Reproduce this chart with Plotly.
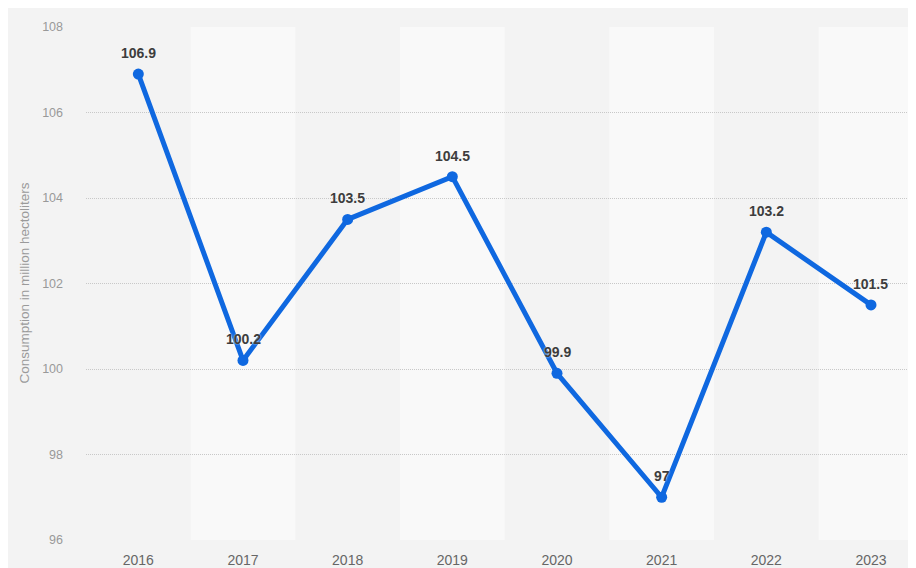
import plotly.graph_objects as go

years = ["2016", "2017", "2018", "2019", "2020", "2021", "2022", "2023"]
consumption = [106.9, 100.2, 103.5, 104.5, 99.9, 97, 103.2, 101.5]
y_ticks = [96, 98, 100, 102, 104, 106, 108]
y_title = "Consumption in million hectoliters"

# page body has an 8px margin; figure sized to fill the rest of the window
OFF = 8
W, H = 916 - OFF, 568 - OFF
L, R, T, B = 86 - OFF, 0, 27 - OFF, H - (540 - OFF)
pw, ph = W - L - R, H - T - B

def px_x(p):
    return (p - OFF - L) / pw

xs = list(range(len(years)))
blue = "#0f68e0"
font_family = "Liberation Sans, Arial, sans-serif"

fig = go.Figure()
fig.add_trace(go.Scatter(
    x=xs, y=consumption, mode="lines+markers",
    line=dict(color=blue, width=5),
    marker=dict(color=blue, size=11),
    hoverinfo="skip", showlegend=False,
))

shapes = []
for i in xs:
    if i % 2 == 1:
        shapes.append(dict(type="rect", xref="x", yref="y", x0=i - 0.5, x1=i + 0.5,
                           y0=y_ticks[0], y1=y_ticks[-1], fillcolor="#f9f9f9",
                           line=dict(width=0), layer="below"))

annotations = []
for x, v in zip(xs, consumption):
    annotations.append(dict(
        x=x, y=v, xref="x", yref="y", text=f"{v:g}", showarrow=False,
        yshift=21, yanchor="middle",
        font=dict(family=font_family, size=14, color="#3d3d3d",
                  weight="bold", shadow="0px 0px 2px #f8f8f8"),
    ))
annotations.append(dict(
    x=px_x(24), y=0.5, xref="paper", yref="paper", text=y_title, showarrow=False,
    textangle=-90, xanchor="center", yanchor="middle",
    font=dict(family=font_family, size=13.5, color="#9a9a9a"),
))

fig.update_layout(
    width=W, height=H,
    margin=dict(l=L, r=R, t=T, b=B, pad=0, autoexpand=False),
    paper_bgcolor="#f3f3f3", plot_bgcolor="#f3f3f3",
    shapes=shapes, annotations=annotations,
    xaxis=dict(
        range=[-0.5, 7.43], tickmode="array", tickvals=xs, ticktext=years,
        showgrid=False, zeroline=False, showline=False, ticks="",
        ticklabelstandoff=10, automargin=False,
        tickfont=dict(family=font_family, size=14, color="#666666"),
        fixedrange=True,
    ),
    yaxis=dict(
        range=[y_ticks[0], y_ticks[-1]], tickmode="array", tickvals=y_ticks,
        showgrid=True, gridcolor="#c8c8c8", griddash="1px,1px", gridwidth=1,
        zeroline=False, showline=False, ticks="",
        ticklabelstandoff=22, automargin=False,
        tickfont=dict(family=font_family, size=12.5, color="#999999"),
        fixedrange=True,
    ),
    showlegend=False,
)

fig.write_html("out.html")
